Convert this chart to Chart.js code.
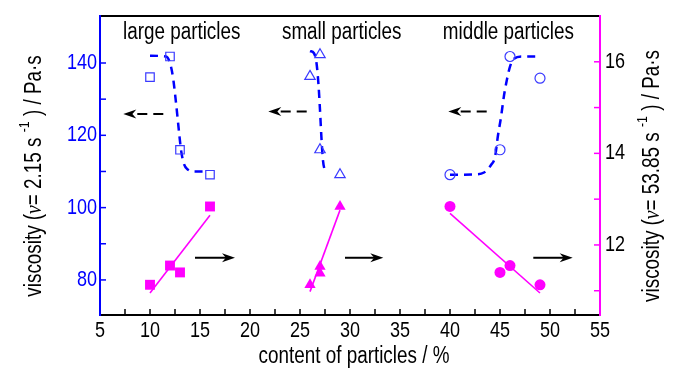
<!DOCTYPE html>
<html>
<head>
<meta charset="utf-8">
<script src="https://cdn.jsdelivr.net/npm/chart.js@4.4.1/dist/chart.umd.min.js"></script>
<style>
  html, body { margin: 0; padding: 0; background: #fff; }
  #wrap { width: 700px; height: 374px; }
</style>
</head>
<body>
<div id="wrap"><canvas id="chart" width="700" height="374"></canvas></div>
<script>
const FONT = '"Liberation Sans", Arial, sans-serif';
const NARROW = 0.82; // the original uses a narrow sans face
const BLUE = '#0000ff';
const MAGENTA = '#ff00ff';

// content of particles / %
const largeX = [10, 12, 13, 16];
const smallX = [26, 27, 27, 29];
const middleX = [40, 45, 46, 49];

// viscosity at 2.15 1/s (left axis), hollow markers
const largeVisc = [136.1, 141.8, 116, 109.1];
const smallVisc = [136.3, 142.3, 116, 109.1];
const middleVisc = [109.1, 116, 141.8, 135.8];

// viscosity at 53.85 1/s (right axis), filled markers
const largeVisc2 = [11.13, 11.55, 11.40, 12.84];
const smallVisc2 = [11.13, 11.38, 11.53, 12.84];
const middleVisc2 = [12.84, 11.40, 11.55, 11.13];

// dashed sigmoid guide curves
const largeCurveX = [10, 11.6, 12.0, 12.3, 12.6, 12.9, 13.1, 13.4, 13.8, 14.5, 15.4];
const largeCurveY = [142, 141.8, 140, 136, 129, 121, 116, 112, 110.5, 110, 110];
const smallCurveX = [26.0, 26.4, 26.65, 26.85, 27.0, 27.15, 27.3, 27.5, 27.7];
const smallCurveY = [143.3, 142.7, 140, 134, 127, 119, 113, 110.3, 109.8];
const middleCurveX = [40, 42.5, 43.4, 44.1, 44.5, 44.8, 45.1, 45.4, 45.7, 46.0, 46.4, 47.2, 49];
const middleCurveY = [109.1, 109.2, 109.7, 111.8, 114, 120, 125, 131, 135.5, 139, 141.2, 141.8, 141.8];

// straight fit lines for the filled markers
const largeFitX = [10, 16];
const largeFitY = [10.95, 12.65];
const smallFitX = [26, 29];
const smallFitY = [10.98, 12.76];
const middleFitX = [40, 49];
const middleFitY = [12.69, 10.95];

// arrows pointing to the axis each series belongs to
const leftArrowTail = [11.33, 25.67, 43.67];
const leftArrowHead = [7.33, 21.83, 39.83];
const leftArrowY = [125.9, 126.6, 126.6];
const rightArrowTail = [14.5, 29.5, 48.33];
const rightArrowHead = [18.5, 33.33, 52.27];
const rightArrowY = [11.72, 11.72, 11.72];

// group labels
const groupNames = ['large particles', 'small particles', 'middle particles'];
const groupLabelX = [13.17, 29.17, 45.83];
const groupLabelY = [148.3, 148.3, 148.3];

// tick values
const xTicks = [5, 10, 15, 20, 25, 30, 35, 40, 45, 50, 55];
const xMinor = [7.5, 12.5, 17.5, 22.5, 27.5, 32.5, 37.5, 42.5, 47.5, 52.5];
const yTicks = [80, 100, 120, 140];
const yMinor = [90, 110, 130];
const y2Ticks = [12, 14, 16];
const y2Minor = [11, 13, 15];

const pts = (xs, ys) => xs.map((x, i) => ({ x: x, y: ys[i] }));

function hollow(label, xs, ys, style, r) {
  return {
    label: label, data: pts(xs, ys), yAxisID: 'y', showLine: false,
    pointStyle: style, pointRadius: r, pointBorderWidth: 1.2,
    pointBorderColor: '#3a3aff', pointBackgroundColor: 'rgba(0,0,0,0)'
  };
}
function filled(label, xs, ys, style, r) {
  return {
    label: label, data: pts(xs, ys), yAxisID: 'y2', showLine: false,
    pointStyle: style, pointRadius: r, pointBorderWidth: 0,
    pointBorderColor: MAGENTA, pointBackgroundColor: MAGENTA
  };
}
function curve(label, xs, ys) {
  return {
    label: label, data: pts(xs, ys), yAxisID: 'y', showLine: true,
    borderColor: BLUE, borderWidth: 2.5, borderDash: [8, 6],
    cubicInterpolationMode: 'monotone', pointRadius: 0, fill: false
  };
}
function fit(label, xs, ys) {
  return {
    label: label, data: pts(xs, ys), yAxisID: 'y2', showLine: true,
    borderColor: MAGENTA, borderWidth: 1.6, pointRadius: 0, fill: false
  };
}

function text(ctx, str, x, y, align, color, size) {
  ctx.save();
  ctx.translate(x, y);
  ctx.scale(NARROW, 1);
  ctx.font = size + 'px ' + FONT;
  ctx.fillStyle = color;
  ctx.textAlign = align;
  ctx.textBaseline = 'middle';
  ctx.fillText(str, 0, 0);
  ctx.restore();
}

function drawArrow(ctx, x1, y, x2, dashed) {
  const dir = Math.sign(x2 - x1);
  const headLen = 13, headW = 4.5;
  ctx.save();
  ctx.strokeStyle = '#000';
  ctx.fillStyle = '#000';
  ctx.lineWidth = 2;
  if (dashed) ctx.setLineDash([10, 6]);
  ctx.beginPath();
  ctx.moveTo(x1, y);
  ctx.lineTo(x2 - dir * headLen * 0.6, y);
  ctx.stroke();
  ctx.setLineDash([]);
  ctx.beginPath();
  ctx.moveTo(x2, y);
  ctx.lineTo(x2 - dir * headLen, y - headW);
  ctx.lineTo(x2 - dir * headLen * 0.7, y);
  ctx.lineTo(x2 - dir * headLen, y + headW);
  ctx.closePath();
  ctx.fill();
  ctx.restore();
}

function drawRich(ctx, parts, cx, cy) {
  ctx.save();
  ctx.translate(cx, cy);
  ctx.rotate(-Math.PI / 2);
  ctx.scale(NARROW, 1);
  let total = 0;
  parts.forEach(p => { ctx.font = p.font; p.w = ctx.measureText(p.t).width; total += p.w; });
  let x = -total / 2;
  ctx.fillStyle = '#000';
  ctx.textBaseline = 'alphabetic';
  ctx.textAlign = 'left';
  parts.forEach(p => { ctx.font = p.font; ctx.fillText(p.t, x, 8 + (p.dy || 0)); x += p.w; });
  ctx.restore();
}

function titleParts(rate) {
  const main = '23px ' + FONT;
  return [
    { t: 'viscosity (', font: main },
    { t: 'ν', font: 'italic 24px "Liberation Serif", serif' },
    { t: '= ' + rate + ' s ', font: main },
    { t: '-1', font: '15px ' + FONT, dy: -12 },
    { t: ' ) / Pa·s', font: main }
  ];
}

const decorPlugin = {
  id: 'decor',
  beforeDatasetsDraw(chart) {
    const ctx = chart.ctx;
    const a = chart.chartArea;
    const xs = chart.scales.x, ys = chart.scales.y, y2s = chart.scales.y2;
    ctx.save();
    ctx.lineWidth = 2;
    ctx.strokeStyle = '#000';
    ctx.beginPath(); ctx.moveTo(a.left, a.top); ctx.lineTo(a.right, a.top); ctx.stroke();
    ctx.beginPath(); ctx.moveTo(a.left, a.bottom); ctx.lineTo(a.right + 1, a.bottom); ctx.stroke();
    ctx.lineWidth = 1.5;
    xTicks.concat(xMinor).forEach(v => {
      const p = xs.getPixelForValue(v);
      ctx.beginPath(); ctx.moveTo(p, a.bottom); ctx.lineTo(p, a.bottom - 6); ctx.stroke();
    });
    ctx.strokeStyle = BLUE;
    ctx.lineWidth = 2;
    ctx.beginPath(); ctx.moveTo(a.left, a.top - 1); ctx.lineTo(a.left, a.bottom + 1); ctx.stroke();
    ctx.lineWidth = 1.5;
    yTicks.concat(yMinor).forEach(v => {
      const p = ys.getPixelForValue(v);
      ctx.beginPath(); ctx.moveTo(a.left, p); ctx.lineTo(a.left + 6, p); ctx.stroke();
    });
    ctx.strokeStyle = MAGENTA;
    ctx.lineWidth = 2;
    ctx.beginPath(); ctx.moveTo(a.right, a.top - 1); ctx.lineTo(a.right, a.bottom + 1); ctx.stroke();
    ctx.lineWidth = 1.5;
    y2Ticks.concat(y2Minor).forEach(v => {
      const p = y2s.getPixelForValue(v);
      ctx.beginPath(); ctx.moveTo(a.right, p); ctx.lineTo(a.right - 6, p); ctx.stroke();
    });
    ctx.restore();

    // tick labels
    xTicks.forEach(v => text(ctx, String(v), xs.getPixelForValue(v), a.bottom + 16, 'center', '#000', 22));
    yTicks.forEach(v => text(ctx, String(v), a.left - 3, ys.getPixelForValue(v), 'right', BLUE, 22));
    y2Ticks.forEach(v => text(ctx, String(v), a.right + 5, y2s.getPixelForValue(v), 'left', '#000', 22));
  },
  afterDatasetsDraw(chart) {
    const ctx = chart.ctx;
    const a = chart.chartArea;
    const xs = chart.scales.x, ys = chart.scales.y, y2s = chart.scales.y2;
    leftArrowY.forEach((v, i) => {
      drawArrow(ctx, xs.getPixelForValue(leftArrowTail[i]), ys.getPixelForValue(v),
        xs.getPixelForValue(leftArrowHead[i]), true);
    });
    rightArrowY.forEach((v, i) => {
      drawArrow(ctx, xs.getPixelForValue(rightArrowTail[i]), y2s.getPixelForValue(v),
        xs.getPixelForValue(rightArrowHead[i]), false);
    });
    groupNames.forEach((n, i) => {
      text(ctx, n, xs.getPixelForValue(groupLabelX[i]), ys.getPixelForValue(groupLabelY[i]), 'center', '#000', 23);
    });
    text(ctx, 'content of particles / %', (a.left + a.right) / 2 + 4, 357, 'center', '#000', 23);
    drawRich(ctx, titleParts('2.15'), 33, 176);
    drawRich(ctx, titleParts('53.85'), 651, 176);
  }
};

new Chart(document.getElementById('chart'), {
  type: 'scatter',
  data: {
    datasets: [
      hollow('large', largeX, largeVisc, 'rect', 6),
      hollow('small', smallX, smallVisc, 'triangle', 6),
      hollow('middle', middleX, middleVisc, 'circle', 5),
      filled('large 2', largeX, largeVisc2, 'rect', 7),
      filled('small 2', smallX, smallVisc2, 'triangle', 6.5),
      filled('middle 2', middleX, middleVisc2, 'circle', 5.5),
      curve('large curve', largeCurveX, largeCurveY),
      curve('small curve', smallCurveX, smallCurveY),
      curve('middle curve', middleCurveX, middleCurveY),
      fit('large fit', largeFitX, largeFitY),
      fit('small fit', smallFitX, smallFitY),
      fit('middle fit', middleFitX, middleFitY)
    ]
  },
  options: {
    responsive: false,
    animation: false,
    devicePixelRatio: 1,
    layout: { padding: { top: 16, left: 0, right: 0, bottom: 0 } },
    plugins: { legend: { display: false }, tooltip: { enabled: false } },
    scales: {
      x: {
        type: 'linear', min: 5, max: 55,
        afterBuildTicks: s => { s.ticks = xTicks.map(v => ({ value: v })); },
        afterFit: s => { s.height = 59; },
        grid: { display: false }, border: { display: false },
        ticks: { display: false }
      },
      y: {
        type: 'linear', position: 'left', min: 70.3, max: 153,
        afterBuildTicks: s => { s.ticks = yTicks.map(v => ({ value: v })); },
        afterFit: s => { s.width = 100; },
        grid: { display: false }, border: { display: false },
        ticks: { display: false }
      },
      y2: {
        type: 'linear', position: 'right', min: 10.47, max: 17.0,
        afterBuildTicks: s => { s.ticks = y2Ticks.map(v => ({ value: v })); },
        afterFit: s => { s.width = 100; },
        grid: { display: false }, border: { display: false },
        ticks: { display: false }
      }
    }
  },
  plugins: [decorPlugin]
});
</script>
</body>
</html>
